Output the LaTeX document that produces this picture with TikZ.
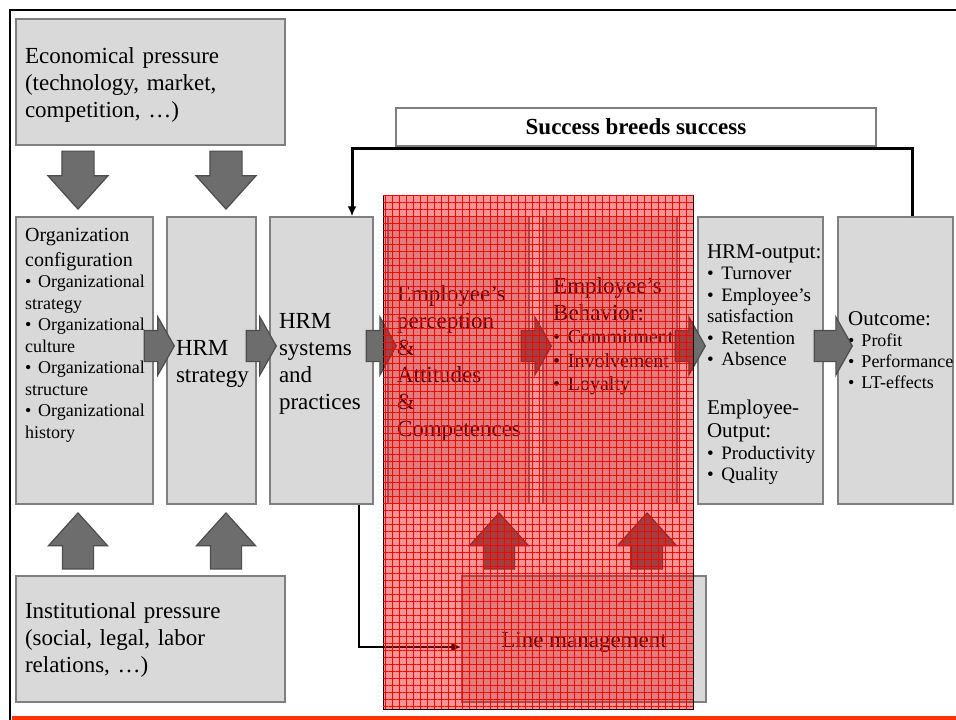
\documentclass[tikz,border=0pt]{standalone}
\usepackage{fontspec}
\setmainfont{Liberation Serif}
\usepackage{tikz}
\usetikzlibrary{positioning,shapes.arrows,arrows.meta,patterns.meta}
\definecolor{boxfill}{HTML}{D9D9D9}
\definecolor{boxedge}{HTML}{7F7F7F}
\definecolor{arrowfill}{HTML}{6D6D6D}
\definecolor{arrowedge}{HTML}{4D4D4D}
\definecolor{barorange}{HTML}{FF3300}
\hyphenpenalty=10000
\exhyphenpenalty=10000
\tikzstyle{box} = [rectangle, draw=boxedge, fill=boxfill, line width=1.5pt, inner xsep=9pt, inner ysep=0pt, align=left, text height=22pt, font=\fontsize{23}{27}\selectfont]
\tikzstyle{pressure} = [box, text width=251pt, minimum height=126pt]
\tikzstyle{column} = [box, minimum height=287pt]
\tikzstyle{blocktext} = [anchor=north west, inner sep=0pt, align=left]
\tikzstyle{blockarrow} = [single arrow, draw=arrowedge, fill=arrowfill, line width=1.2pt, inner xsep=0pt, anchor=tip]
\tikzstyle{downarrow} = [blockarrow, rotate=-90, inner ysep=15.5pt, minimum height=58pt, minimum width=59pt, single arrow head extend=14pt, single arrow tip angle=84]
\tikzstyle{uparrow} = [blockarrow, rotate=90, inner ysep=15pt, minimum height=56pt, minimum width=58pt, single arrow head extend=14pt, single arrow tip angle=84]
\tikzstyle{rightarrow} = [blockarrow, inner ysep=15pt, minimum height=30pt, minimum width=57pt, single arrow head extend=13.5pt, single arrow tip angle=121]
\tikzstyle{line} = [draw, line width=3pt, -{Latex[length=10pt,width=9pt]}]
\tikzstyle{focus} = [rectangle, draw=black, line width=0.8pt, fill=red!92!black, fill opacity=0.42, minimum width=310pt, minimum height=514pt, postaction={pattern={Hatch[angle=0,distance=7pt,line width=0.5pt]}, pattern color=red, fill opacity=0.55}]

\begin{document}
\begin{tikzpicture}[x=1pt, y=-1pt]
	\useasboundingbox (0,0) rectangle (956,720);
	% Frame
	\draw[line width=2.5pt] (10,720) -- (10,10) -- (956,10);
	\fill[barorange] (12,716) rectangle (956,720);
	% Place nodes
	\node [pressure] (econ) at (150.5,82) {Economical pressure\\(technology, market,\\competition, …)};
	\node [pressure, text height=18pt] (inst) at (150.5,639) {Institutional pressure\\(social, legal, labor\\relations, …)};
	\node [column, text width=119pt] (orgconf) at (84.5,360.5) {};
	\node [blocktext, text width=125pt, font=\fontsize{20}{25}\selectfont] (orgtext) at (25,228) {Organization\\configuration\par
		{\fontsize{18}{21.5}\selectfont •~Organizational\\strategy\\•~Organizational\\culture\\•~Organizational\\structure\\•~Organizational\\history\par}};
	\node [column, text width=71pt] (hrmstrat) at (211.5,360.5) {HRM\\strategy};
	\node [column, text width=85pt] (hrmsys) at (321.5,360.5) {HRM\\systems\\and\\practices};
	\node [column, text width=123pt] (percep) at (458.5,360) {Employee’s\\perception\\\&\\Attitudes\\\&\\Competences};
	\node [column, text width=116pt] (behav) at (610,360) {};
	\node [blocktext, text width=120pt, font=\fontsize{23}{27}\selectfont] (behavtext) at (553,277) {Employee’s\\Behavior:\par
		{\fontsize{20}{23.5}\selectfont •~Commitment\\•~Involvement\\•~Loyalty\par}};
	\node [column, text width=107pt] (hrmout) at (760.5,360.5) {{\fontsize{21}{23}\selectfont HRM-output:\par}
		{\fontsize{19}{21.5}\selectfont •~Turnover\\•~Employee’s\\satisfaction\\•~Retention\\•~Absence\par}
		\vspace{26pt}
		{\fontsize{21}{23}\selectfont Employee-\\Output:\par}
		{\fontsize{19}{21.5}\selectfont •~Productivity\\•~Quality\par}};
	\node [column, text width=97pt] (outcome) at (895.5,360.5) {};
	\node [blocktext, text width=104pt, font=\fontsize{21}{22}\selectfont] (outcometext) at (848,311) {Outcome:\par
		{\fontsize{18}{21}\selectfont •~Profit\\•~Performance\\•~LT-effects\par}};
	\node [box, align=center, fill=white, minimum width=480pt, minimum height=38pt, inner sep=0pt, text height=15pt, font=\bfseries\fontsize{23}{26}\selectfont] (success) at (636,127) {Success breeds success};
	\node [box, align=center, minimum width=244pt, minimum height=126pt] (linemgmt) at (584,639) {Line management};
	% Block arrows (placed by their tips)
	\node [downarrow] (econorg) at (78,210) {};
	\node [downarrow] (econstrat) at (226,210) {};
	\node [uparrow] (instorg) at (78,512) {};
	\node [uparrow] (inststrat) at (226,512) {};
	\node [uparrow] (mgmtpercep) at (499,512) {};
	\node [uparrow] (mgmtbehav) at (647,512) {};
	\node [rightarrow] (orgstrat) at (175,346) {};
	\node [rightarrow] (stratsys) at (277,346) {};
	\node [rightarrow] (syspercep) at (397,346) {};
	\node [rightarrow] (percepbehav) at (552,346) {};
	\node [rightarrow] (behavout) at (706,346) {};
	\node [rightarrow, minimum height=38pt] (outoutcome) at (853,346) {};
	% Draw edges
	\path [line] ([xshift=16.5pt]outcome.north) |- ([yshift=-2pt]success.south) -| ([xshift=30.5pt]hrmsys.north);
	\path [line, line width=2.2pt] ([xshift=37.5pt]hrmsys.south) |- ([yshift=-8pt]linemgmt.west);
	% Focus area
	\node [focus] (focusarea) at (538,452) {};
\end{tikzpicture}
\end{document}
